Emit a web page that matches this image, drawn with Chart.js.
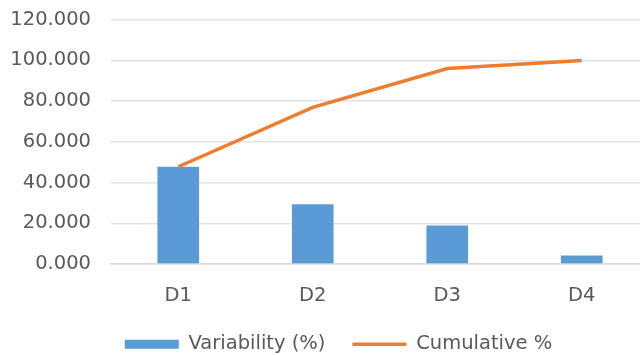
<!DOCTYPE html>
<html>
<head>
<meta charset="utf-8">
<script src="https://cdn.jsdelivr.net/npm/chart.js@4/dist/chart.umd.min.js"></script>
<style>
  html, body { margin: 0; padding: 0; background: #fff; overflow: hidden; }
  #wrap { position: relative; width: 640px; height: 355px; overflow: hidden; }
</style>
</head>
<body>
<div id="wrap"><canvas id="c" width="660" height="384"></canvas></div>
<script>
const categories = ['D1', 'D2', 'D3', 'D4'];
const variability = [47.8, 29.4, 19.0, 4.2];
const cumulative = [47.8, 77.0, 96.0, 100.0];
const yTicks = [0, 20, 40, 60, 80, 100, 120];

const FONT = "'DejaVu Sans', sans-serif";
const GREY = '#595959';

// nudge the legend: centred under the whole figure and tucked up close to the axis labels
const legendShift = {
  id: 'legendShift',
  afterLayout(chart) {
    const lg = chart.legend;
    if (!lg) return;
    lg.left += 14;
    lg.right += 14;
    lg.top -= 20;
    lg.bottom -= 20;
  }
};

new Chart(document.getElementById('c'), {
  data: {
    labels: categories,
    datasets: [
      {
        type: 'line',
        label: 'Cumulative %',
        data: cumulative,
        borderColor: '#ED7D31',
        backgroundColor: '#ED7D31',
        borderWidth: 3.5,
        pointRadius: 0,
        tension: 0,
        order: 0
      },
      {
        type: 'bar',
        label: 'Variability (%)',
        data: variability,
        backgroundColor: '#5B9BD5',
        borderWidth: 0,
        categoryPercentage: 1,
        barPercentage: 0.31,
        order: 1
      }
    ]
  },
  options: {
    responsive: false,
    animation: false,
    layout: { padding: { left: 0, right: 11, top: 0, bottom: 0 } },
    plugins: {
      tooltip: { enabled: false },
      legend: {
        position: 'bottom',
        reverse: true,
        labels: {
          color: GREY,
          font: { family: FONT, size: 19.5 },
          usePointStyle: true,
          pointStyleWidth: 54,
          boxHeight: 9,
          padding: 27,
          generateLabels(chart) {
            const items = Chart.defaults.plugins.legend.labels.generateLabels(chart);
            items.forEach(it => {
              const ds = chart.data.datasets[it.datasetIndex];
              if (ds.type === 'line') {
                it.pointStyle = 'line';
                it.strokeStyle = ds.borderColor;
                it.lineWidth = 3.5;
              } else {
                it.pointStyle = 'rect';
                it.lineWidth = 0;
                it.strokeStyle = ds.backgroundColor;
              }
            });
            return items;
          }
        }
      }
    },
    scales: {
      x: {
        grid: { display: false, drawTicks: false },
        border: { color: '#D9D9D9', width: 1.5 },
        ticks: { color: GREY, font: { family: FONT, size: 19.5 }, padding: 20 }
      },
      y: {
        min: 0,
        max: 120,
        afterBuildTicks(axis) { axis.ticks = yTicks.map(v => ({ value: v })); },
        afterFit(axis) { axis.width = 111; },
        grid: { color: '#E3E3E3', lineWidth: 1.5, drawTicks: true, tickLength: 12, tickColor: 'rgba(0,0,0,0)' },
        border: { display: false },
        ticks: {
          color: GREY,
          font: { family: FONT, size: 19.5 },
          padding: 8,
          callback: v => v.toFixed(3)
        }
      }
    }
  },
  plugins: [legendShift]
});
</script>
</body>
</html>
